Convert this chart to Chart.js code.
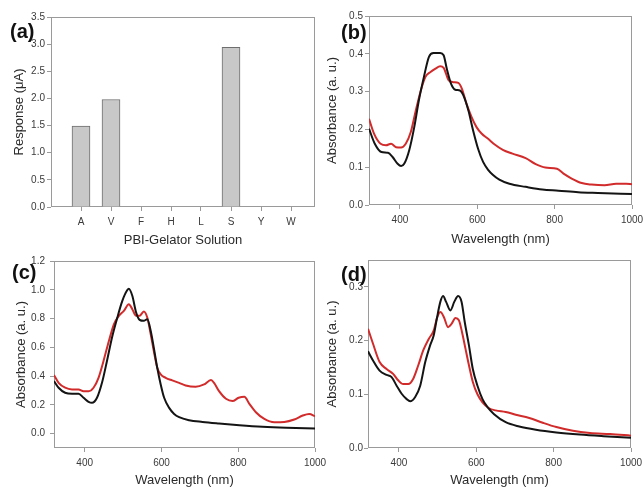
<!DOCTYPE html>
<html lang="en">
<head>
<meta charset="UTF-8">
<title>PBI-Gelator Solution</title>
<script src="https://cdn.jsdelivr.net/npm/chart.js"></script>
<style>
    html, body { margin: 0; padding: 0; background: #fff; }
    body { width: 643px; height: 488px; position: relative; overflow: hidden; font-family: "Liberation Sans", Arial, sans-serif; }
    canvas { position: absolute; left: 0; top: 0; }
    .tag { position: absolute; font-weight: bold; font-size: 20px; line-height: 20px; color: #111; }
</style>
</head>
<body>
<canvas id="chartA" width="643" height="488"></canvas>
<canvas id="chartB" width="643" height="488"></canvas>
<canvas id="chartC" width="643" height="488"></canvas>
<canvas id="chartD" width="643" height="488"></canvas>
<div class="tag" style="left:10px;top:21px">(a)</div>
<div class="tag" style="left:341px;top:22px">(b)</div>
<div class="tag" style="left:12px;top:262px">(c)</div>
<div class="tag" style="left:341px;top:264px">(d)</div>
<script>
// (a) bar chart
const categories = ['A', 'V', 'F', 'H', 'L', 'S', 'Y', 'W'];
const response = [1.49, 1.98, 0, 0.01, 0, 2.94, 0, 0];
const responseTicks = [0, 0.5, 1.0, 1.5, 2.0, 2.5, 3.0, 3.5];

// spectra, x in nm
const waveTicks = [400, 600, 800, 1000];

const bWaveBlack = [320,335,352,369,381,394,403,411,424,437,449,462,475,487,504,513,521,532,543,555,564,577,589,602,615,628,640,657,683,725,768,810,861,912,1000];
const bAbsBlack = [0.202,0.162,0.140,0.138,0.127,0.109,0.103,0.109,0.145,0.206,0.277,0.339,0.392,0.402,0.402,0.396,0.361,0.321,0.305,0.303,0.290,0.250,0.198,0.149,0.114,0.093,0.080,0.067,0.056,0.048,0.041,0.038,0.034,0.032,0.029];
const bWaveRed = [320,333,350,364,377,390,403,415,428,441,454,466,479,492,504,513,526,538,551,560,572,585,598,611,628,645,666,691,725,751,776,806,823,844,870,895,929,959,985,1000];
const bAbsRed = [0.228,0.189,0.162,0.158,0.162,0.153,0.152,0.162,0.193,0.250,0.303,0.339,0.352,0.361,0.367,0.363,0.330,0.325,0.323,0.308,0.268,0.233,0.206,0.189,0.175,0.160,0.146,0.136,0.124,0.108,0.099,0.096,0.083,0.070,0.058,0.054,0.052,0.056,0.056,0.055];
const bTicks = [0, 0.1, 0.2, 0.3, 0.4, 0.5];

const cWaveBlack = [320,332,349,367,384,397,410,419,432,445,458,471,485,498,511,515,524,534,543,554,563,572,580,589,598,607,620,633,646,672,707,750,803,863,925,1000];
const cAbsBlack = [0.365,0.319,0.284,0.277,0.277,0.249,0.221,0.214,0.249,0.353,0.505,0.667,0.807,0.923,0.998,1.007,0.958,0.842,0.791,0.784,0.795,0.714,0.598,0.458,0.342,0.249,0.179,0.137,0.114,0.093,0.081,0.070,0.058,0.047,0.040,0.035];
const cWaveRed = [320,332,349,367,384,397,410,423,436,449,463,476,489,502,515,524,534,543,554,563,572,580,589,598,611,628,646,663,689,711,729,737,750,768,785,801,816,829,846,868,894,920,946,968,985,1000];
const cAbsRed = [0.407,0.353,0.319,0.307,0.307,0.295,0.295,0.319,0.388,0.505,0.644,0.760,0.819,0.853,0.900,0.865,0.819,0.819,0.849,0.807,0.691,0.574,0.458,0.412,0.388,0.370,0.353,0.335,0.326,0.342,0.372,0.353,0.295,0.242,0.226,0.249,0.256,0.207,0.149,0.102,0.079,0.081,0.098,0.126,0.137,0.121];
const cTicks = [0, 0.2, 0.4, 0.6, 0.8, 1.0, 1.2];

const dWaveBlack = [320,333,350,368,381,394,407,420,429,442,455,468,481,490,498,507,514,522,533,543,553,562,570,581,591,603,616,629,646,676,711,754,807,868,929,1000];
const dAbsBlack = [0.180,0.163,0.144,0.136,0.132,0.116,0.101,0.091,0.087,0.095,0.116,0.160,0.192,0.210,0.241,0.272,0.283,0.272,0.256,0.272,0.283,0.272,0.235,0.191,0.147,0.116,0.091,0.076,0.063,0.048,0.040,0.034,0.029,0.025,0.022,0.019];
const dWaveRed = [320,333,350,368,385,398,411,424,437,450,463,477,490,498,507,516,527,536,546,555,563,572,581,591,603,616,633,650,676,702,737,772,807,850,894,946,1000];
const dAbsRed = [0.222,0.194,0.160,0.147,0.138,0.126,0.119,0.119,0.129,0.154,0.182,0.203,0.219,0.241,0.253,0.244,0.225,0.231,0.242,0.238,0.216,0.185,0.154,0.123,0.100,0.085,0.074,0.070,0.067,0.062,0.056,0.047,0.039,0.032,0.028,0.026,0.023];
const dTicks = [0, 0.1, 0.2, 0.3];

const W = 643, H = 488;
const FONT = '"Liberation Sans", Arial, sans-serif';
const GRAY = '#9a9a9a';
const TITLE_LH = 13 * 1.2;

// box around the plot area
const frame = {
    id: 'frame',
    beforeDatasetsDraw(chart) {
        const {ctx, chartArea: a} = chart;
        ctx.save();
        ctx.strokeStyle = GRAY;
        ctx.lineWidth = 1;
        ctx.strokeRect(Math.round(a.left) + 0.5, Math.round(a.top) + 0.5, Math.round(a.right - a.left) - 1, Math.round(a.bottom - a.top) - 1);
        ctx.restore();
    }
};

let pts = (xs, ys) => xs.map((x, i) => ({x: x, y: ys[i]}));

// p: area {l,t,r,b}, yTitleX, xTitleY, x/y ranges, ticks, titles
let makeOptions = (p) => {
    let padLeft = p.yTitleX - TITLE_LH / 2;
    let xBottom = p.xTitleY + TITLE_LH / 2;
    let noPad = (s) => { s.paddingLeft = 0; s.paddingRight = 0; s.paddingTop = 0; s.paddingBottom = 0; };
    return {
        responsive: false,
        animation: false,
        events: [],
        layout: { padding: { left: padLeft, top: p.area.t, right: W - p.area.r, bottom: H - xBottom } },
        plugins: { legend: { display: false }, tooltip: { enabled: false } },
        scales: {
            x: {
                type: 'linear',
                offset: false,
                min: p.xMin, max: p.xMax,
                afterBuildTicks: (s) => { s.ticks = p.xTicks.map(v => ({value: v})); },
                afterFit: (s) => { s.height = xBottom - p.area.b; noPad(s); },
                border: { display: false },
                grid: { offset: false, drawOnChartArea: false, drawTicks: true, tickLength: 4, color: GRAY },
                ticks: { autoSkip: false, maxRotation: 0, padding: 5, color: '#3a3a3a', font: { family: FONT, size: 10 }, callback: p.xLabel },
                title: { display: true, text: p.xTitle, padding: 0, color: '#2a2a2a', font: { family: FONT, size: 13 } }
            },
            y: {
                min: p.yMin, max: p.yMax,
                afterBuildTicks: (s) => { s.ticks = p.yTicks.map(v => ({value: v})); },
                afterFit: (s) => { s.width = p.area.l - padLeft; noPad(s); },
                border: { display: false },
                grid: { drawOnChartArea: false, drawTicks: true, tickLength: 4, color: GRAY },
                ticks: { padding: p.yPad, color: '#3a3a3a', font: { family: FONT, size: 10 }, callback: (v) => Number(v).toFixed(1) },
                title: { display: true, text: p.yTitle, padding: 0, color: '#2a2a2a', font: { family: FONT, size: 13 } }
            }
        }
    };
};

// (a)
new Chart(document.getElementById('chartA'), {
    type: 'bar',
    data: {
        datasets: [{
            data: pts(categories.map((c, i) => i + 1), response),
            backgroundColor: '#c8c8c8',
            borderColor: '#6e6e6e',
            borderWidth: 1,
            barThickness: 18
        }]
    },
    options: makeOptions({
        area: { l: 51, t: 17, r: 315, b: 207 },
        yTitleX: 19, xTitleY: 240,
        xMin: 0, xMax: 8.8, xTicks: categories.map((c, i) => i + 1),
        xLabel: (v) => categories[v - 1] || '',
        yMin: 0, yMax: 3.5, yTicks: responseTicks, yPad: 2,
        xTitle: 'PBI-Gelator Solution', yTitle: 'Response (\u03bcA)'
    }),
    plugins: [frame]
});

let spectrum = (id, p, wb, ab, wr, ar) => {
    p.xMin = 320; p.xMax = 1000; p.xTicks = waveTicks;
    p.xLabel = (v) => String(v);
    p.xTitle = 'Wavelength (nm)';
    p.yTitle = 'Absorbance (a. u.)';
    new Chart(document.getElementById(id), {
        type: 'line',
        data: {
            datasets: [
                { data: pts(wb, ab), borderColor: '#141414', borderWidth: 2, pointRadius: 0, cubicInterpolationMode: 'monotone' },
                { data: pts(wr, ar), borderColor: '#d12b2b', borderWidth: 2, pointRadius: 0, cubicInterpolationMode: 'monotone' }
            ]
        },
        options: makeOptions(p),
        plugins: [frame]
    });
};

spectrum('chartB', { area: { l: 369, t: 16, r: 632, b: 205 }, yTitleX: 332, xTitleY: 239, yMin: 0, yMax: 0.5, yTicks: bTicks, yPad: 2 },
    bWaveBlack, bAbsBlack, bWaveRed, bAbsRed);
spectrum('chartC', { area: { l: 54, t: 261, r: 315, b: 448 }, yTitleX: 21, xTitleY: 480, yMin: -0.1, yMax: 1.2, yTicks: cTicks, yPad: 5 },
    cWaveBlack, cAbsBlack, cWaveRed, cAbsRed);
spectrum('chartD', { area: { l: 368, t: 260, r: 631, b: 448 }, yTitleX: 332, xTitleY: 480, yMin: 0, yMax: 0.35, yTicks: dTicks, yPad: 1 },
    dWaveBlack, dAbsBlack, dWaveRed, dAbsRed);
</script>
</body>
</html>
